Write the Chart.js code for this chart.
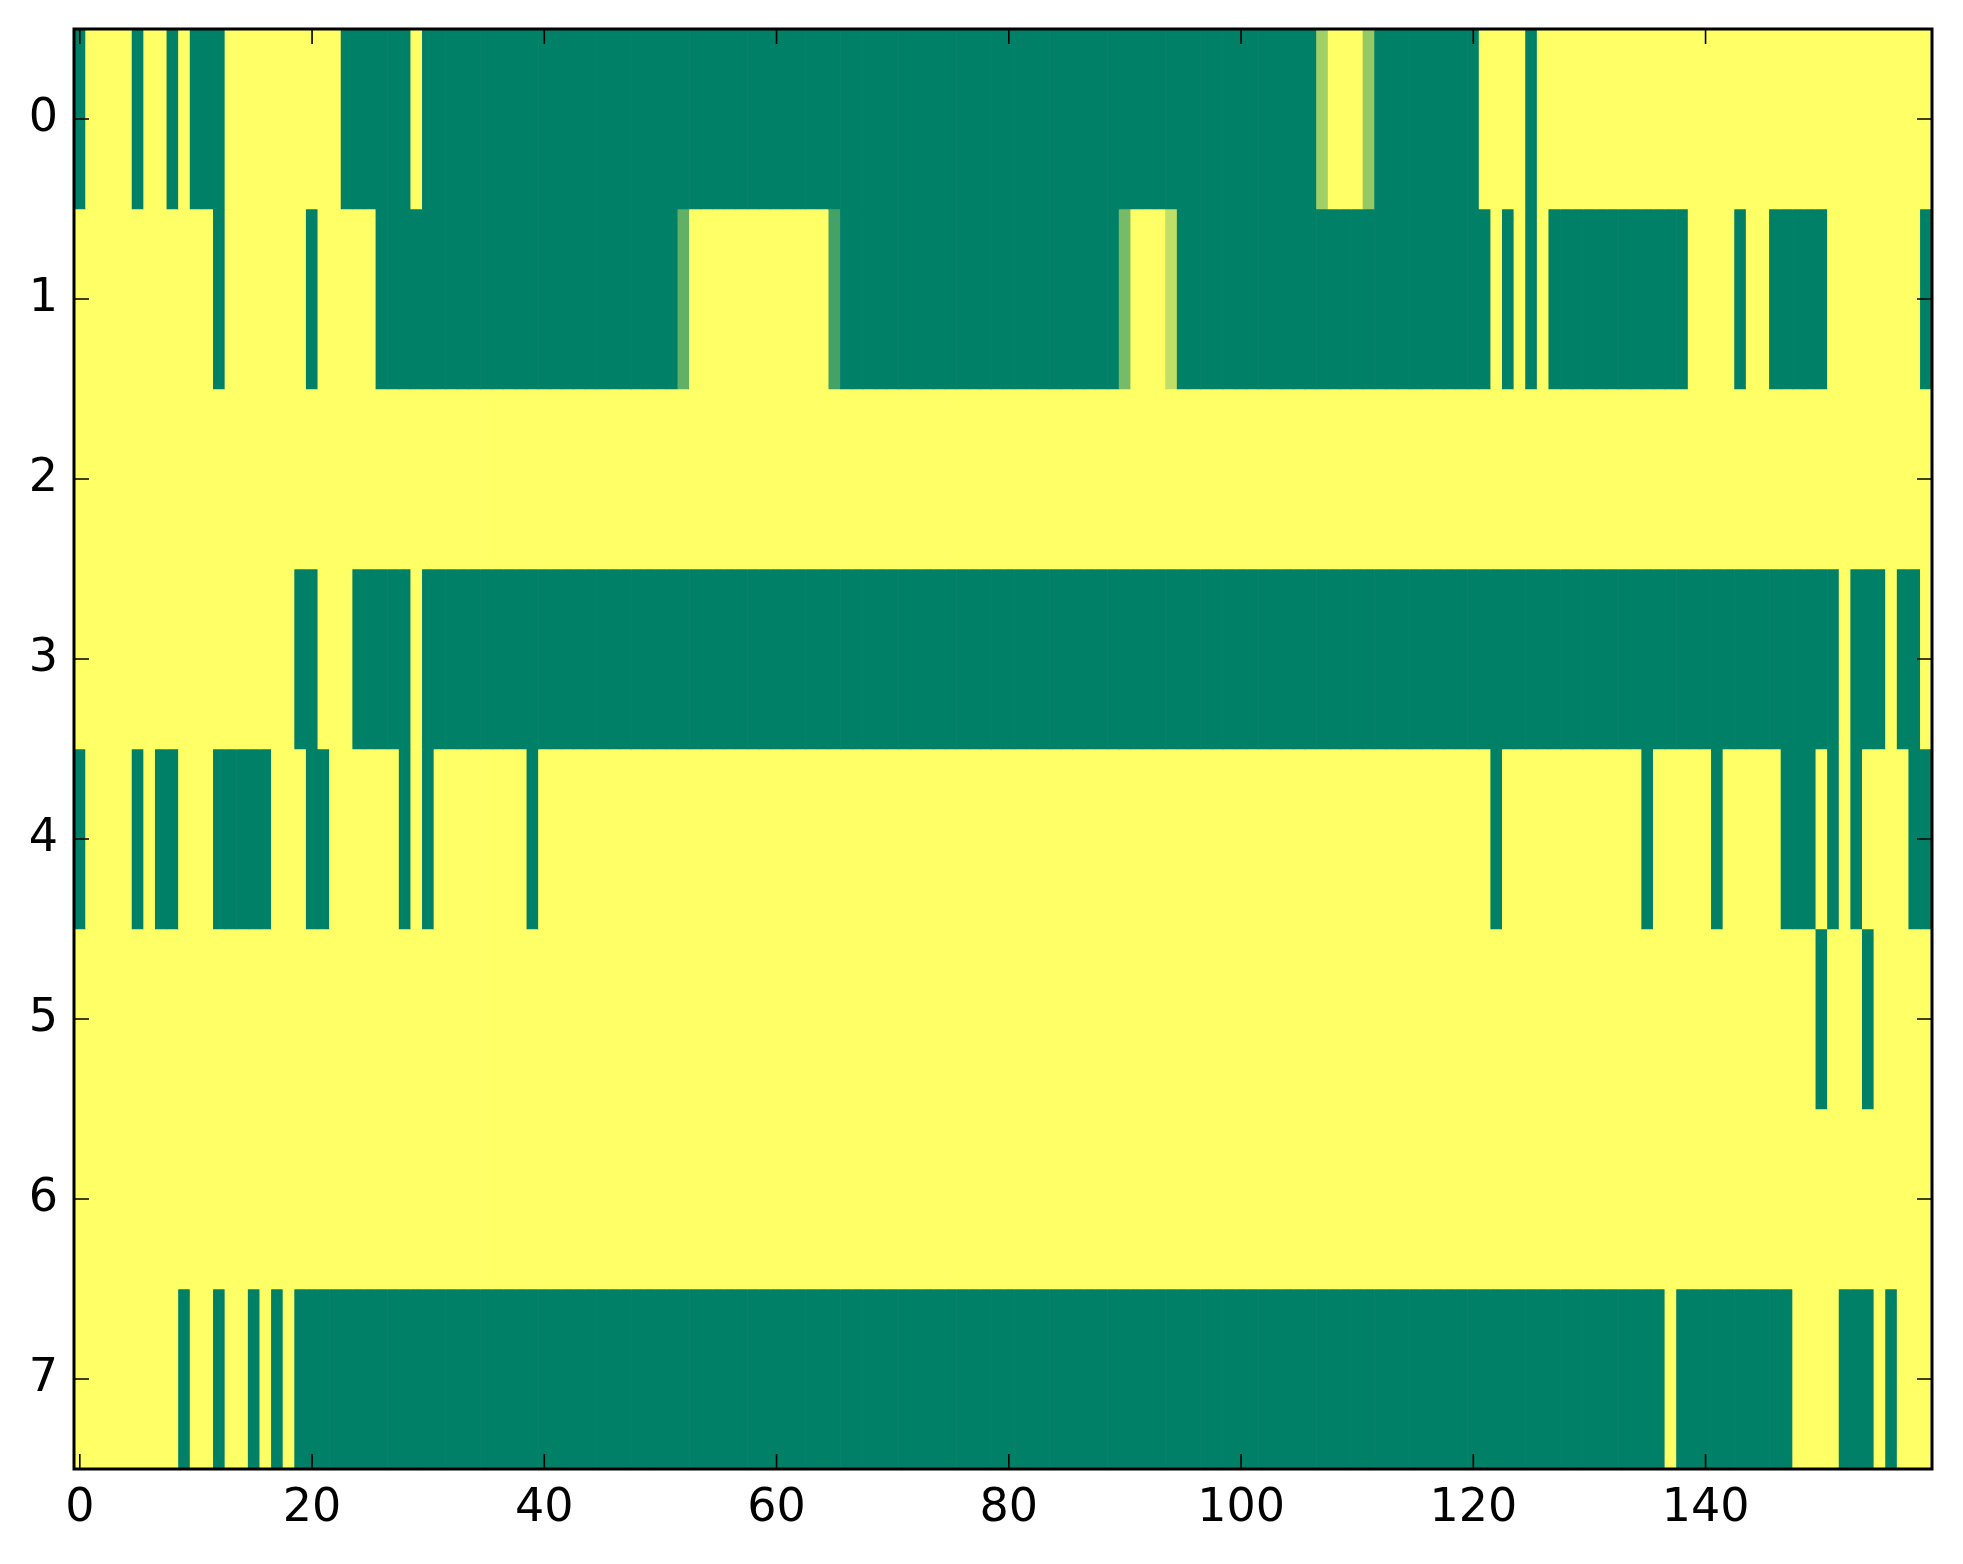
<!DOCTYPE html>
<html>
<head>
<meta charset="utf-8">
<script src="https://cdn.jsdelivr.net/npm/chart.js@4.4.1/dist/chart.umd.min.js"></script>
<style>
html,body{margin:0;padding:0;background:#ffffff;}
#wrap{width:1963px;height:1564px;position:relative;}
</style>
</head>
<body>
<div id="wrap"><canvas id="c"></canvas></div>
<script>
// ---- data (0 = green, 1 = yellow, summer colormap) ----
const colLabels = Array.from({length: 160}, (_, i) => i);
const rowLabels = [0, 1, 2, 3, 4, 5, 6, 7];
const xTickValues = [0, 20, 40, 60, 80, 100, 120, 140];
const yTickValues = [0, 1, 2, 3, 4, 5, 6, 7];

const row0 = [
  0,1,1,1,1,0,1,1,0,1, 0,0,0,1,1,1,1,1,1,1,
  1,1,1,0,0,0,0,0,0,1, 0,0,0,0,0,0,0,0,0,0,
  0,0,0,0,0,0,0,0,0,0, 0,0,0,0,0,0,0,0,0,0,
  0,0,0,0,0,0,0,0,0,0, 0,0,0,0,0,0,0,0,0,0,
  0,0,0,0,0,0,0,0,0,0, 0,0,0,0,0,0,0,0,0,0,
  0,0,0,0,0,0,0,0.63,1,1, 1,0.58,0,0,0,0,0,0,0,0,
  0,1,1,1,1,0,1,1,1,1, 1,1,1,1,1,1,1,1,1,1,
  1,1,1,1,1,1,1,1,1,1, 1,1,1,1,1,1,1,1,1,1
];
const row1 = [
  1,1,1,1,1,1,1,1,1,1, 1,1,0,1,1,1,1,1,1,1,
  0,1,1,1,1,1,0,0,0,0, 0,0,0,0,0,0,0,0,0,0,
  0,0,0,0,0,0,0,0,0,0, 0,0,0.38,1,1,1,1,1,1,1,
  1,1,1,1,1,0.27,0,0,0,0, 0,0,0,0,0,0,0,0,0,0,
  0,0,0,0,0,0,0,0,0,0, 0.47,1,1,1,0.75,0,0,0,0,0,
  0,0,0,0,0,0,0,0,0,0, 0,0,0,0,0,0,0,0,0,0,
  0,0,1,0,1,0,1,0,0,0, 0,0,0,0,0,0,0,0,0,1,
  1,1,1,0,1,1,0,0,0,0, 0,1,1,1,1,1,1,1,1,0
];
const row2 = [
  1,1,1,1,1,1,1,1,1,1, 1,1,1,1,1,1,1,1,1,1,
  1,1,1,1,1,1,1,1,1,1, 1,1,1,1,1,1,1,1,1,1,
  1,1,1,1,1,1,1,1,1,1, 1,1,1,1,1,1,1,1,1,1,
  1,1,1,1,1,1,1,1,1,1, 1,1,1,1,1,1,1,1,1,1,
  1,1,1,1,1,1,1,1,1,1, 1,1,1,1,1,1,1,1,1,1,
  1,1,1,1,1,1,1,1,1,1, 1,1,1,1,1,1,1,1,1,1,
  1,1,1,1,1,1,1,1,1,1, 1,1,1,1,1,1,1,1,1,1,
  1,1,1,1,1,1,1,1,1,1, 1,1,1,1,1,1,1,1,1,1
];
const row3 = [
  1,1,1,1,1,1,1,1,1,1, 1,1,1,1,1,1,1,1,1,0,
  0,1,1,1,0,0,0,0,0,1, 0,0,0,0,0,0,0,0,0,0,
  0,0,0,0,0,0,0,0,0,0, 0,0,0,0,0,0,0,0,0,0,
  0,0,0,0,0,0,0,0,0,0, 0,0,0,0,0,0,0,0,0,0,
  0,0,0,0,0,0,0,0,0,0, 0,0,0,0,0,0,0,0,0,0,
  0,0,0,0,0,0,0,0,0,0, 0,0,0,0,0,0,0,0,0,0,
  0,0,0,0,0,0,0,0,0,0, 0,0,0,0,0,0,0,0,0,0,
  0,0,0,0,0,0,0,0,0,0, 0,0,1,0,0,0,1,0,0,1
];
const row4 = [
  0,1,1,1,1,0,1,0,0,1, 1,1,0,0,0,0,0,1,1,1,
  0,0,1,1,1,1,1,1,0,1, 0,1,1,1,1,1,1,1,1,0,
  1,1,1,1,1,1,1,1,1,1, 1,1,1,1,1,1,1,1,1,1,
  1,1,1,1,1,1,1,1,1,1, 1,1,1,1,1,1,1,1,1,1,
  1,1,1,1,1,1,1,1,1,1, 1,1,1,1,1,1,1,1,1,1,
  1,1,1,1,1,1,1,1,1,1, 1,1,1,1,1,1,1,1,1,1,
  1,1,0,1,1,1,1,1,1,1, 1,1,1,1,1,0,1,1,1,1,
  1,0,1,1,1,1,1,0,0,0, 1,0,1,0,1,1,1,1,0,0
];
const row5 = [
  1,1,1,1,1,1,1,1,1,1, 1,1,1,1,1,1,1,1,1,1,
  1,1,1,1,1,1,1,1,1,1, 1,1,1,1,1,1,1,1,1,1,
  1,1,1,1,1,1,1,1,1,1, 1,1,1,1,1,1,1,1,1,1,
  1,1,1,1,1,1,1,1,1,1, 1,1,1,1,1,1,1,1,1,1,
  1,1,1,1,1,1,1,1,1,1, 1,1,1,1,1,1,1,1,1,1,
  1,1,1,1,1,1,1,1,1,1, 1,1,1,1,1,1,1,1,1,1,
  1,1,1,1,1,1,1,1,1,1, 1,1,1,1,1,1,1,1,1,1,
  1,1,1,1,1,1,1,1,1,1, 0,1,1,1,0,1,1,1,1,1
];
const row6 = [
  1,1,1,1,1,1,1,1,1,1, 1,1,1,1,1,1,1,1,1,1,
  1,1,1,1,1,1,1,1,1,1, 1,1,1,1,1,1,1,1,1,1,
  1,1,1,1,1,1,1,1,1,1, 1,1,1,1,1,1,1,1,1,1,
  1,1,1,1,1,1,1,1,1,1, 1,1,1,1,1,1,1,1,1,1,
  1,1,1,1,1,1,1,1,1,1, 1,1,1,1,1,1,1,1,1,1,
  1,1,1,1,1,1,1,1,1,1, 1,1,1,1,1,1,1,1,1,1,
  1,1,1,1,1,1,1,1,1,1, 1,1,1,1,1,1,1,1,1,1,
  1,1,1,1,1,1,1,1,1,1, 1,1,1,1,1,1,1,1,1,1
];
const row7 = [
  1,1,1,1,1,1,1,1,1,0, 1,1,0,1,1,0,1,0,1,0,
  0,0,0,0,0,0,0,0,0,0, 0,0,0,0,0,0,0,0,0,0,
  0,0,0,0,0,0,0,0,0,0, 0,0,0,0,0,0,0,0,0,0,
  0,0,0,0,0,0,0,0,0,0, 0,0,0,0,0,0,0,0,0,0,
  0,0,0,0,0,0,0,0,0,0, 0,0,0,0,0,0,0,0,0,0,
  0,0,0,0,0,0,0,0,0,0, 0,0,0,0,0,0,0,0,0,0,
  0,0,0,0,0,0,0,0,0,0, 0,0,0,0,0,0,0,1,0,0,
  0,0,0,0,0,0,0,0,1,1, 1,1,0,0,0,1,0,1,1,1
];
const rows = [row0, row1, row2, row3, row4, row5, row6, row7];

// matplotlib "summer" colormap
function summer(v) {
  const r = Math.round(255 * v);
  const g = Math.round(255 * (0.5 + 0.5 * v));
  return `rgb(${r},${g},102)`;
}

const FONT = {family: 'DejaVu Sans', size: 46};

const frameTicks = {
  id: 'frameTicks',
  afterDraw(chart) {
    const {ctx, chartArea: a, scales: {x, y}} = chart;
    const L = 15;
    ctx.save();
    ctx.strokeStyle = '#000';
    ctx.lineWidth = 1.6;
    ctx.beginPath();
    xTickValues.forEach(v => {
      const px = x.getPixelForValue(v);
      ctx.moveTo(px, a.bottom); ctx.lineTo(px, a.bottom - L);
      ctx.moveTo(px, a.top); ctx.lineTo(px, a.top + L);
    });
    yTickValues.forEach(v => {
      const py = y.getPixelForValue(v);
      ctx.moveTo(a.left, py); ctx.lineTo(a.left + L, py);
      ctx.moveTo(a.right, py); ctx.lineTo(a.right - L, py);
    });
    ctx.stroke();
    ctx.lineWidth = 3;
    ctx.strokeRect(a.left, a.top, a.right - a.left, a.bottom - a.top);
    ctx.restore();
  }
};

new Chart(document.getElementById('c'), {
  type: 'bar',
  data: {
    labels: colLabels,
    datasets: rows.map((vals, r) => ({
      label: 'row ' + rowLabels[r],
      data: vals.map(() => [rowLabels[r] - 0.5, rowLabels[r] + 0.5]),
      backgroundColor: vals.map(summer),
      borderWidth: 0,
      grouped: false,
      barPercentage: 1,
      categoryPercentage: 1
    }))
  },
  options: {
    responsive: true,
    maintainAspectRatio: false,
    animation: false,
    events: [],
    layout: {padding: {top: 29, right: 31, left: 0, bottom: 0}},
    plugins: {legend: {display: false}, tooltip: {enabled: false}},
    scales: {
      x: {
        type: 'category',
        offset: true,
        grid: {display: false, drawTicks: false},
        border: {display: false},
        ticks: {
          autoSkip: false, maxRotation: 0, minRotation: 0,
          padding: 12, color: '#000', font: FONT,
          callback: (v, i) => xTickValues.includes(i) ? String(colLabels[i]) : ''
        },
        afterFit: s => { s.height = 95; s.paddingLeft = 0; s.paddingRight = 0; }
      },
      y: {
        type: 'linear',
        reverse: true,
        min: -0.5,
        max: 7.5,
        afterBuildTicks: s => { s.ticks = yTickValues.map(v => ({value: v})); },
        grid: {display: false, drawTicks: false},
        border: {display: false},
        ticks: {padding: 16, color: '#000', font: FONT, callback: v => String(v)},
        afterFit: s => { s.width = 74; s.paddingTop = 0; s.paddingBottom = 0; }
      }
    }
  },
  plugins: [frameTicks]
});
</script>
</body>
</html>
